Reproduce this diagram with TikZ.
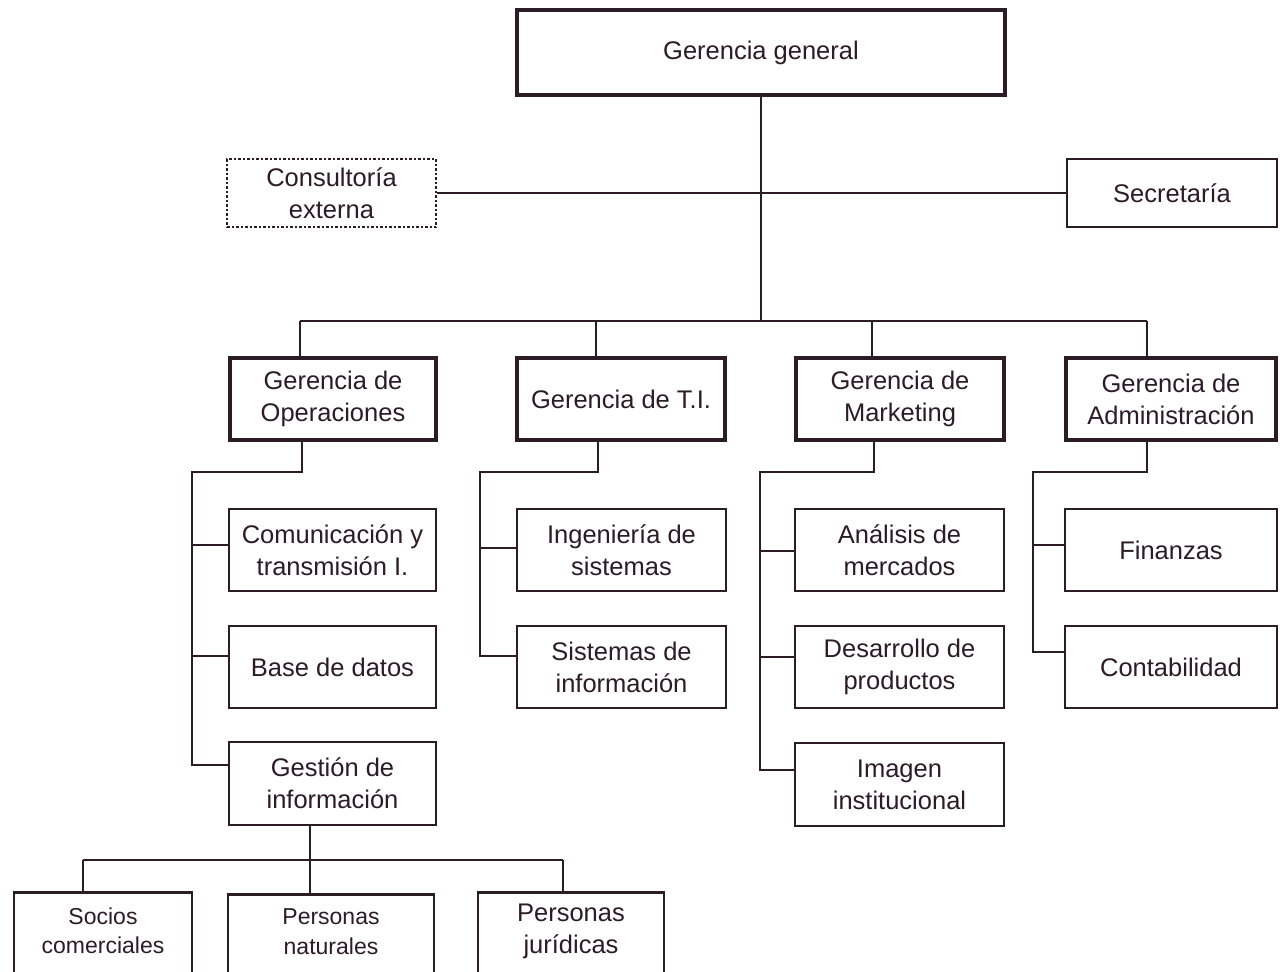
\documentclass[tikz,border=0pt]{standalone}
\usepackage{fontspec}
\setmainfont{Liberation Sans}
\definecolor{ink}{RGB}{44,28,38}
\begin{document}
\begin{tikzpicture}[x=1pt,y=-1pt,
  txt/.style={text=ink, align=center, inner sep=0pt, font=\fontsize{25.5}{32}\selectfont},
  box/.style={txt, draw=ink, line width=2.5pt, rectangle},
  bigbox/.style={box, line width=4.5pt},
  dotbox/.style={box, dotted, line width=2.5pt},
  conn/.style={draw=ink, line width=2pt}]
\useasboundingbox (0,0) rectangle (1280,972);
\clip (0,0) rectangle (1280,972);
\fill[white] (0,0) rectangle (1280,972);
% top level
\node[bigbox, minimum width=488pt, minimum height=85pt] (gg) at (761,52.5) {Gerencia general};
\node[dotbox, minimum width=209pt, minimum height=68pt] (ce) at (331.5,193) {Consultoría\\externa};
\node[box, minimum width=210pt, minimum height=68pt] (sec) at (1172,193) {Secretaría};
% level 2
\node[bigbox, minimum width=206pt, minimum height=82pt] (op) at (333,399) {Gerencia de\\Operaciones};
\node[bigbox, minimum width=208pt, minimum height=82pt] (ti) at (621,399) {Gerencia de T.I.};
\node[bigbox, minimum width=208pt, minimum height=82pt] (mk) at (900,399) {Gerencia de\\Marketing};
\node[bigbox, minimum width=210pt, minimum height=82pt] (ad) at (1171,399) {Gerencia de\\Administración};
% level 3
\node[box, minimum width=207pt, minimum height=82pt] (cm) at (332.5,550) {Comunicación y\\transmisión I.};
\node[box, minimum width=207pt, minimum height=82pt] (bd) at (332.5,667) {Base de datos};
\node[box, minimum width=207pt, minimum height=83pt] (gi) at (332.5,783.5) {Gestión de\\información};
\node[box, minimum width=209pt, minimum height=82pt] (is) at (621.5,550) {Ingeniería de\\sistemas};
\node[box, minimum width=209pt, minimum height=82pt] (si) at (621.5,667) {Sistemas de\\información};
\node[box, minimum width=209pt, minimum height=82pt] (am) at (899.5,550) {Análisis de\\mercados};
\node[box, minimum width=209pt, minimum height=82pt] (dp) at (899.5,667) {Desarrollo de\\productos};
\node[box, minimum width=209pt, minimum height=83pt] (ii) at (899.5,784.5) {Imagen\\institucional};
\node[box, minimum width=212pt, minimum height=82pt] (fi) at (1171,550) {Finanzas};
\node[box, minimum width=212pt, minimum height=82pt] (co) at (1171,667) {Contabilidad};
% level 4 (cut off at the bottom)
\node[box, minimum width=178pt, minimum height=120pt, anchor=north] (sc) at (103,891) {};
\node[box, minimum width=206pt, minimum height=120pt, anchor=north] (pn) at (331,893) {};
\node[box, minimum width=186pt, minimum height=120pt, anchor=north] (pj) at (571,891) {};
\node[txt, font=\fontsize{23}{29}\selectfont] (sct) at (103,931) {Socios\\comerciales};
\node[txt, font=\fontsize{23}{30}\selectfont] (pnt) at (331,932) {Personas\\naturales};
\node[txt] (pjt) at (571,931) {Personas\\jurídicas};
% connectors: top
\coordinate (bus) at (761,321);
\coordinate (b1) at (300,321);
\coordinate (b2) at (596,321);
\coordinate (b3) at (872,321);
\coordinate (b4) at (1147,321);
\draw[conn] (gg.south) -- (bus);
\draw[conn] (ce.east) -- (sec.west);
\draw[conn] (b1) -- (b4);
\draw[conn] (b1) -- (b1 |- op.north);
\draw[conn] (b2) -- (b2 |- ti.north);
\draw[conn] (b3) -- (b3 |- mk.north);
\draw[conn] (b4) -- (b4 |- ad.north);
% Operaciones
\coordinate (o0) at (302,472);
\coordinate (o1) at (192,472);
\coordinate (oa) at (192,545);
\coordinate (ob) at (192,656);
\coordinate (oc) at (192,765);
\draw[conn] (op.south -| o0) -- (o0) -- (o1) -- (oc) -- (oc -| gi.west);
\draw[conn] (oa) -- (oa -| cm.west);
\draw[conn] (ob) -- (ob -| bd.west);
% T.I.
\coordinate (t0) at (598,472);
\coordinate (t1) at (480,472);
\coordinate (ta) at (480,548);
\coordinate (tb) at (480,656);
\draw[conn] (ti.south -| t0) -- (t0) -- (t1) -- (tb) -- (tb -| si.west);
\draw[conn] (ta) -- (ta -| is.west);
% Marketing
\coordinate (m0) at (874,472);
\coordinate (m1) at (760,472);
\coordinate (ma) at (760,551);
\coordinate (mb) at (760,657);
\coordinate (mc) at (760,770);
\draw[conn] (mk.south -| m0) -- (m0) -- (m1) -- (mc) -- (mc -| ii.west);
\draw[conn] (ma) -- (ma -| am.west);
\draw[conn] (mb) -- (mb -| dp.west);
% Administracion
\coordinate (a0) at (1147,472);
\coordinate (a1) at (1033,472);
\coordinate (aa) at (1033,545);
\coordinate (ab) at (1033,652);
\draw[conn] (ad.south -| a0) -- (a0) -- (a1) -- (ab) -- (ab -| co.west);
\draw[conn] (aa) -- (aa -| fi.west);
% Gestion
\coordinate (g0) at (310,860);
\coordinate (g1) at (83,860);
\coordinate (g2) at (563,860);
\draw[conn] (gi.south -| g0) -- (g0);
\draw[conn] (g1) -- (g2);
\draw[conn] (g1) -- (g1 |- sc.north);
\draw[conn] (g0) -- (g0 |- pn.north);
\draw[conn] (g2) -- (g2 |- pj.north);
\end{tikzpicture}
\end{document}
